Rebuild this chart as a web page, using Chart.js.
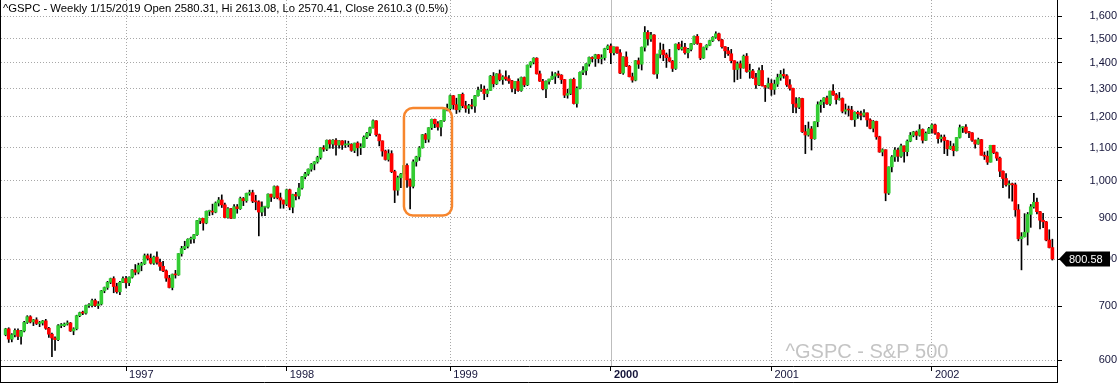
<!DOCTYPE html>
<html>
<head>
<meta charset="utf-8">
<script src="https://cdn.jsdelivr.net/npm/chart.js@4.4.1/dist/chart.umd.min.js"></script>
<style>
html,body{margin:0;padding:0;background:#fff;}
#area{width:1117px;height:383px;position:relative;}
</style>
</head>
<body>
<div id="area"><canvas id="graficoPrecos"></canvas></div>
<script>

// =====================================
// DADOS (semanal, ^GSPC abr/1996 - out/2002)
// =====================================

const primeiraSemana = "1996-04-05";

const aberturas = [
    // 1996
    645,656,637,645,653,642,652,668,679,669,673,666,667,671,657,646,639,636,662,662,
    665,667,652,656,681,687,686,701,701,711,701,704,731,738,749,757,740,729,749,
    // 1997
    757,748,760,776,771,786,790,808,802,791,805,793,784,774,758,738,766,765,813,825,
    830,847,848,858,893,899,887,917,917,915,939,947,934,901,924,899,929,924,951,945,
    965,967,944,942,915,928,928,963,955,984,953,947,
    // 1998
    936,975,928,962,958,980,1012,1020,1034,1049,1056,1069,1099,1095,1123,1111,1123,1108,1121,1108,
    1109,1110,1091,1114,1099,1101,1133,1146,1164,1187,1141,1121,1089,1063,1081,1027,974,1009,1020,1045,
    1003,985,1056,1071,1099,1141,1126,1164,1192,1177,1166,1188,1226,
    // 1999
    1229,1275,1243,1225,1280,1239,1230,1239,1238,1275,1295,1299,1283,1294,1348,1319,1357,1335,1345,1338,
    1330,1302,1328,1294,1343,1315,1391,1403,1419,1357,1329,1300,1328,1337,1348,1357,1352,1335,1277,1283,
    1336,1247,1302,1363,1370,1396,1422,1417,1433,1417,1421,1458,
    // 2000
    1469,1441,1465,1441,1360,1424,1387,1346,1333,1409,1395,1464,1527,1499,1516,1357,1435,1452,1433,1421,
    1407,1378,1477,1457,1464,1441,1455,1479,1510,1480,1420,1463,1472,1492,1506,1521,1495,1466,1449,1437,
    1409,1374,1397,1380,1427,1366,1368,1342,1315,1370,1312,1306,
    // 2001
    1320,1298,1318,1343,1355,1349,1315,1302,1246,1234,1265,1151,1140,1160,1128,1184,1243,1253,1267,1246,
    1292,1278,1261,1265,1220,1225,1224,1191,1216,1211,1206,1214,1190,1162,1185,1134,1086,1093,966,1041,
    1071,1092,1073,1105,1087,1120,1139,1150,1139,1158,1123,1145,
    // 2002
    1161,1173,1146,1128,1133,1122,1096,1104,1090,1132,1164,1166,1149,1147,1123,1111,1125,1076,1073,1055,
    1107,1084,1067,1028,1007,989,990,989,921,848,853,864,909,929,941,916,894,890,845,827
];

const maximas = [
    // 1996
    657,658,647,656,656,653,670,681,681,674,677,670,672,674,659,648,641,664,666,667,
    671,668,658,682,688,690,702,705,714,714,709,732,739,751,758,761,747,751,761,
    // 1997
    762,761,777,788,791,793,812,812,812,807,817,800,795,776,764,767,775,813,830,842,
    848,852,859,894,899,899,918,920,936,942,954,961,939,927,925,935,935,955,954,966,
    974,974,960,945,942,929,964,963,986,986,966,947,
    // 1998
    977,977,963,968,993,1013,1025,1035,1051,1057,1073,1100,1106,1124,1124,1125,1128,1122,1122,1122,
    1120,1112,1114,1118,1112,1137,1149,1166,1190,1188,1143,1121,1092,1093,1090,1031,1014,1022,1066,1050,
    1006,1062,1073,1103,1142,1145,1164,1193,1193,1184,1189,1228,1245,
    // 1999
    1278,1276,1266,1280,1285,1255,1244,1262,1276,1307,1316,1311,1298,1351,1362,1358,1372,1350,1369,1350,
    1332,1328,1338,1345,1345,1392,1405,1421,1421,1368,1336,1330,1337,1365,1362,1368,1354,1336,1299,1337,
    1341,1308,1365,1385,1397,1424,1425,1435,1434,1433,1460,1474,
    // 2000
    1478,1466,1465,1454,1425,1445,1390,1360,1410,1420,1465,1553,1535,1528,1518,1436,1482,1477,1440,1455,
    1410,1478,1484,1490,1480,1459,1480,1512,1518,1481,1465,1475,1494,1509,1530,1524,1497,1467,1464,1455,
    1409,1404,1408,1432,1438,1395,1375,1359,1380,1390,1313,1341,
    // 2001
    1335,1333,1356,1370,1376,1354,1335,1303,1268,1268,1266,1172,1183,1168,1184,1253,1259,1268,1274,1292,
    1316,1283,1287,1267,1245,1238,1237,1218,1220,1220,1226,1214,1194,1188,1186,1136,1096,1093,1041,1075,
    1100,1098,1111,1105,1124,1148,1152,1153,1174,1160,1150,1165,
    // 2002
    1177,1176,1148,1140,1140,1123,1120,1112,1132,1173,1167,1174,1152,1148,1124,1130,1126,1086,1089,1107,
    1107,1086,1070,1029,1021,1000,994,994,935,863,911,914,935,965,952,917,912,891,870,847
];

const minimas = [
    // 1996
    643,631,632,641,636,628,650,666,667,662,664,660,663,655,640,606,617,634,658,660,
    663,651,645,654,679,683,684,697,698,699,695,702,727,734,746,727,726,723,748,
    // 1997
    737,742,758,765,767,774,788,798,789,788,789,775,772,751,737,733,758,764,807,822,
    826,837,838,856,885,869,885,906,908,913,931,927,900,899,898,899,912,922,932,941,
    960,940,921,855,905,906,925,943,951,950,925,925,
    // 1998
    932,921,913,947,950,977,1006,1016,1028,1032,1052,1064,1088,1090,1098,1097,1076,1098,1094,1100,
    1102,1088,1084,1074,1078,1100,1128,1138,1162,1136,1105,1073,1061,1058,1024,940,960,981,1008,982,
    923,980,1043,1060,1098,1115,1117,1158,1164,1156,1137,1185,1221,
    // 1999
    1224,1227,1212,1217,1232,1216,1212,1228,1216,1273,1291,1261,1271,1294,1307,1316,1330,1317,1332,1320,
    1289,1282,1291,1291,1308,1312,1382,1396,1356,1328,1296,1268,1318,1336,1320,1342,1320,1268,1266,1279,
    1245,1234,1300,1354,1353,1387,1404,1386,1400,1396,1411,1454,
    // 2000
    1397,1432,1438,1358,1355,1385,1345,1325,1330,1378,1372,1448,1473,1488,1356,1339,1420,1409,1382,1404,
    1366,1374,1453,1452,1435,1420,1449,1476,1476,1413,1418,1453,1470,1488,1502,1491,1460,1421,1430,1400,
    1326,1335,1339,1379,1363,1340,1339,1302,1312,1310,1254,1302,
    // 2001
    1276,1280,1309,1332,1340,1309,1295,1215,1214,1229,1148,1081,1136,1092,1126,1167,1216,1232,1244,1240,
    1276,1245,1259,1214,1210,1203,1190,1168,1195,1190,1200,1168,1160,1150,1126,1085,1074,945,962,1026,
    1057,1057,1069,1055,1074,1118,1134,1125,1136,1114,1122,1144,
    // 2002
    1146,1142,1114,1117,1081,1075,1094,1074,1089,1130,1148,1145,1131,1119,1098,1110,1076,1063,1048,1055,
    1081,1060,1012,981,985,952,944,904,843,776,852,833,876,925,910,872,875,843,826,798
];

const fechamentos = [
    // 1996
    656,637,645,653,642,652,668,679,669,673,666,667,671,657,646,639,636,662,662,665,
    667,652,656,681,687,686,701,701,711,701,704,731,738,749,757,740,729,749,757,
    // 1997
    748,760,776,771,786,790,808,802,791,805,793,784,774,758,738,766,765,813,825,830,
    847,848,858,893,899,887,917,917,915,939,947,934,901,924,899,929,924,951,945,965,
    967,944,942,915,928,928,963,955,984,953,947,936,
    // 1998
    975,928,962,958,980,1012,1020,1034,1049,1056,1069,1099,1095,1123,1111,1123,1108,1121,1108,1109,
    1110,1091,1114,1099,1101,1133,1146,1164,1187,1141,1121,1089,1063,1081,1027,974,1009,1020,1045,1003,
    985,1056,1071,1099,1141,1126,1164,1192,1177,1166,1188,1226,1229,
    // 1999
    1275,1243,1225,1280,1239,1230,1239,1238,1275,1295,1299,1283,1294,1348,1319,1357,1335,1345,1338,1330,
    1302,1328,1294,1343,1315,1391,1403,1419,1357,1329,1300,1328,1337,1348,1357,1352,1335,1277,1283,1336,
    1247,1302,1363,1370,1396,1422,1417,1433,1417,1421,1458,1469,
    // 2000
    1441,1465,1441,1360,1424,1387,1346,1333,1409,1395,1464,1527,1499,1516,1357,1435,1452,1433,1421,1407,
    1378,1477,1457,1464,1441,1455,1479,1510,1480,1420,1463,1472,1492,1506,1521,1495,1466,1449,1437,1409,
    1374,1397,1380,1427,1366,1368,1342,1315,1370,1312,1306,1320,
    // 2001
    1298,1318,1343,1355,1349,1315,1302,1246,1234,1265,1151,1140,1160,1128,1184,1243,1253,1267,1246,1292,
    1278,1261,1265,1220,1225,1224,1191,1216,1211,1206,1214,1190,1162,1185,1134,1086,1093,966,1041,1071,
    1092,1073,1105,1087,1120,1139,1150,1139,1158,1123,1145,1161,
    // 2002
    1173,1146,1128,1133,1122,1096,1104,1090,1132,1164,1166,1149,1147,1123,1111,1125,1076,1073,1055,1107,
    1084,1067,1028,1007,989,990,989,921,848,853,864,909,929,941,916,894,890,845,827,800.58
];

// eixo X: primeira semana de cada ano
const anos = ["1997","1998","1999","2000","2001","2002"];
const inicioAno = [39, 91, 144, 196, 248, 300];
const anoDestaque = "2000";

// eixo Y
const ticksPreco = [600,700,800,900,1000,1100,1200,1300,1400,1500,1600];

const titulo =
"^GSPC - Weekly 1/15/2019 Open 2580.31, Hi 2613.08, Lo 2570.41, Close 2610.3 (0.5%)";

const marcaDagua = "^GSPC - S&P 500";

// retangulo laranja (indice da semana, preco)
const destaque = { de: 129.0, ate: 144.55, min: 906, max: 1231 };


// =====================================
// MONTAGEM DAS SERIES
// =====================================

const corAlta = "#33cc33";
const corBaixa = "#ff0000";

const semanas = [];
let dia = new Date(primeiraSemana + "T00:00:00Z");

fechamentos.forEach(()=>{
    semanas.push(dia.toISOString().slice(0,10));
    dia = new Date(dia.getTime() + 7*864e5);
});

// uma categoria vazia em cada ponta
const rotulos = ["", ...semanas, ""];

const pavios = [null];
const corpos = [null];
const coresCorpo = ["#000"];

fechamentos.forEach((c,i)=>{
    pavios.push([minimas[i], maximas[i]]);
    corpos.push([aberturas[i], c]);
    coresCorpo.push(c >= aberturas[i] ? corAlta : corBaixa);
});

pavios.push(null);
corpos.push(null);
coresCorpo.push("#000");

function anoDoTick(c){
    return c.tick ? anos[inicioAno.indexOf(c.tick.value - 1)] : "";
}


// =====================================
// DECORACAO
// =====================================

const decoracao = {

    id:"decoracao",

    afterDatasetsDraw(chart){

        const ctx = chart.ctx;
        const area = chart.chartArea;
        const x = chart.scales.x;

        // linha continua do ano 2000
        const px = Math.round(
            x.getPixelForValue(inicioAno[anos.indexOf(anoDestaque)] + 1)
        ) + 0.5;

        ctx.save();
        ctx.globalCompositeOperation = "destination-over";
        ctx.strokeStyle = "#bdbdbd";
        ctx.lineWidth = 1;
        ctx.beginPath();
        ctx.moveTo(px, area.top);
        ctx.lineTo(px, area.bottom);
        ctx.stroke();
        ctx.restore();

    },

    afterDraw(chart){

        const ctx = chart.ctx;
        const area = chart.chartArea;
        const x = chart.scales.x;
        const y = chart.scales.y;

        ctx.save();

        // moldura
        ctx.strokeStyle = "#000";
        ctx.lineWidth = 1;
        ctx.beginPath();
        ctx.moveTo(0.5, 0);
        ctx.lineTo(0.5, chart.height);
        ctx.moveTo(0, chart.height - 0.5);
        ctx.lineTo(Math.round(area.right) + 0.5, chart.height - 0.5);
        ctx.moveTo(Math.round(area.right) + 0.5, 0);
        ctx.lineTo(Math.round(area.right) + 0.5, chart.height);
        ctx.stroke();

        // titulo
        ctx.fillStyle = "#000";
        ctx.font = "11.3px 'Liberation Sans', Arial, sans-serif";
        ctx.textAlign = "left";
        ctx.textBaseline = "top";
        ctx.fillText(titulo, 3, 3);

        // marca d'agua
        ctx.fillStyle = "#c4c4c4";
        ctx.font = "20px 'Liberation Sans', Arial, sans-serif";
        ctx.textAlign = "center";
        ctx.textBaseline = "alphabetic";
        ctx.fillText(marcaDagua, area.right - 190, area.bottom - 8);

        // destaque laranja
        const x1 = x.getPixelForValue(destaque.de + 1);
        const x2 = x.getPixelForValue(destaque.ate + 1);
        const y1 = y.getPixelForValue(destaque.max);
        const y2 = y.getPixelForValue(destaque.min);
        ctx.strokeStyle = "#f7862d";
        ctx.lineWidth = 2.5;
        ctx.beginPath();
        ctx.roundRect(x1, y1, x2 - x1, y2 - y1, 9);
        ctx.stroke();

        // etiqueta do ultimo preco
        const ultimo = fechamentos[fechamentos.length - 1];
        const py = Math.round(y.getPixelForValue(ultimo));
        const px = Math.round(area.right) + 2;
        ctx.fillStyle = "#000";
        ctx.beginPath();
        ctx.moveTo(px, py);
        ctx.lineTo(px + 7, py - 7.5);
        ctx.lineTo(px + 51, py - 7.5);
        ctx.lineTo(px + 51, py + 7.5);
        ctx.lineTo(px + 7, py + 7.5);
        ctx.closePath();
        ctx.fill();
        ctx.fillStyle = "#fff";
        ctx.font = "11px 'Liberation Sans', Arial, sans-serif";
        ctx.textAlign = "left";
        ctx.textBaseline = "middle";
        ctx.fillText(ultimo.toFixed(2), px + 10, py + 0.5);

        ctx.restore();

    }

};


// =====================================
// GRAFICO
// =====================================

Chart.defaults.font.family = "'Liberation Sans', Arial, sans-serif";
Chart.defaults.font.size = 11;
Chart.defaults.color = "#14143a";

const graficoPrecos =
new Chart(document.getElementById("graficoPrecos"),{

    type:"bar",

    data:{

        labels: rotulos,

        datasets:[

            {
                data: corpos,
                backgroundColor: coresCorpo,
                barThickness: 3,
                minBarLength: 1,
                grouped: false,
                order: 0
            },

            {
                data: pavios,
                backgroundColor: "#000",
                barThickness: 1,
                grouped: false,
                order: 1
            }

        ]

    },

    options:{

        responsive:true,
        maintainAspectRatio:false,
        animation:false,
        devicePixelRatio:1,

        layout:{
            padding:{ left:1, top:0, right:0, bottom:0 }
        },

        plugins:{
            legend:{ display:false },
            tooltip:{ enabled:false }
        },

        scales:{

            x:{
                type:"category",
                offset:true,
                afterBuildTicks(scale){
                    scale.ticks = scale.ticks.filter(
                        t => inicioAno.includes(t.value - 1)
                    );
                },
                afterFit(scale){
                    scale.height = 17;
                    scale.paddingLeft = 0;
                    scale.paddingRight = 0;
                },
                ticks:{
                    autoSkip:false,
                    maxRotation:0,
                    align:"start",
                    padding:-3,
                    color:"#14143a",
                    callback(value){
                        return " " + anos[inicioAno.indexOf(value - 1)];
                    },
                    font(c){
                        return {
                            size:11,
                            weight: anoDoTick(c) === anoDestaque ? "bold" : "normal"
                        };
                    }
                },
                grid:{
                    offset:false,
                    color(c){
                        return anoDoTick(c) === anoDestaque ? "rgba(0,0,0,0)" : "#a8a8a8";
                    },
                    tickColor:"#000",
                    tickLength:5,
                    tickBorderDash:[]
                },
                border:{
                    color:"#000",
                    dash:[1,2]
                }
            },

            y:{
                type:"logarithmic",
                position:"right",
                min:590,
                max:1675,
                bounds:"data",
                afterBuildTicks(scale){
                    scale.ticks = ticksPreco.map(v => ({ value:v }));
                },
                afterFit(scale){
                    scale.width = 60;
                    scale.paddingTop = 0;
                    scale.paddingBottom = 0;
                },
                ticks:{
                    crossAlign:"far",
                    padding:17,
                    color:"#14143a",
                    callback(v){
                        return v.toLocaleString("en-US");
                    }
                },
                grid:{
                    color:"#a8a8a8",
                    tickColor:"#000",
                    tickLength:5,
                    tickBorderDash:[]
                },
                border:{
                    color:"#000",
                    dash:[1,2]
                }
            }

        }

    },

    plugins:[decoracao]

});

</script>
</body>
</html>
